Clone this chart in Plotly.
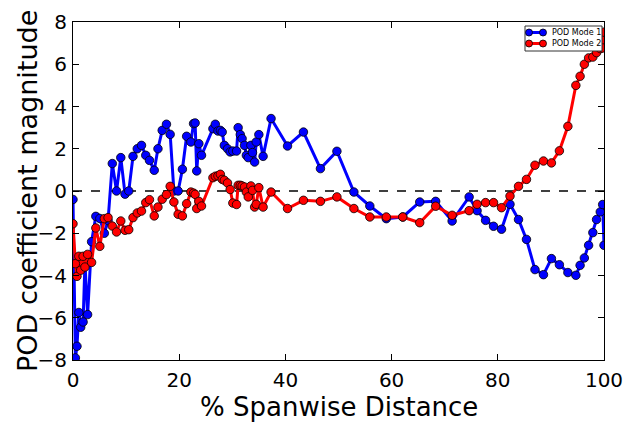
import plotly.graph_objects as go

# Spanwise stations (% of span) shared by both POD modes
span_pct = [0.0, 0.45, 0.75, 1.1, 1.45, 1.9, 2.25, 2.75, 3.5, 4.3, 5.05, 5.9, 6.6, 7.4, 8.2,
            9.0, 9.8, 10.5, 11.3, 12.1, 12.9, 13.7, 14.4, 15.3, 16.0, 16.8, 17.6, 18.3, 19.0,
            19.8, 20.6, 21.4, 22.2, 22.7, 23.0, 23.3, 23.7, 24.2, 26.35, 26.8, 27.3, 27.75,
            28.1, 28.5, 29.1, 29.6, 30.1, 30.8, 31.1, 31.5, 31.85, 32.3, 32.65, 33.0, 33.5,
            33.8, 34.2, 34.5, 35.0, 35.8, 37.3, 40.4, 43.4, 46.6, 49.7, 52.9, 55.9, 59.0,
            62.1, 65.3, 68.3, 71.4, 74.6, 76.1, 77.7, 79.2, 80.7, 82.3, 83.9, 85.4, 87.0,
            88.6, 90.1, 91.6, 93.2, 94.7, 95.5, 96.3, 97.1, 97.9, 98.6, 99.3, 99.75, 100.0]

# POD Mode 1 coefficients
mode1 = [-0.4, -7.9, -7.35, -5.75, -6.45, -6.2, -3.4, -5.85, -2.4, -1.2, -1.3, -2.0, -1.4,
         1.3, 0.0, 1.58, -0.15, 0.0, 1.64, 2.0, 2.16, 1.69, 1.45, 0.98, 2.0, 2.87, 3.16, 2.68,
         0.0, 0.0, 1.03, 2.59, 2.32, 3.19, 3.22, 0.95, 2.24, 1.69, 2.95, 3.16, 2.84, 2.87,
         2.79, 2.16, 2.0, 1.85, 1.89, 1.89, 3.0, 2.67, 2.48, 2.16, 1.69, 1.58, 2.16, 1.82,
         1.37, 2.32, 2.67, 1.64, 3.43, 2.13, 2.79, 1.06, 1.88, -0.05, -0.71, -1.31, -1.23,
         -0.52, -0.49, -1.42, -0.28, -0.93, -1.39, -1.67, -1.81, -0.63, -1.35, -2.29, -3.72,
         -3.96, -3.2, -3.49, -3.86, -3.99, -3.52, -3.17, -2.57, -1.97, -1.35, -0.99, -0.64,
         -2.57]

# POD Mode 2 coefficients
mode2 = [-1.55, -3.44, -4.04, -3.09, -3.75, -3.09, -3.6, -3.0, -3.38, -1.75, -2.62, -1.31,
         -1.26, -1.66, -1.94, -1.42, -1.86, -1.83, -1.26, -1.04, -0.95, -0.55, -0.41, -1.18,
         -0.76, -0.39, -0.17, 0.22, -0.52, -1.1, -1.18, -0.6, -0.05, -0.1, -0.16, -0.83,
         -0.49, -0.71, 0.63, 0.70, 0.72, 0.79, 0.55, 0.51, 0.38, 0.07, -0.57, -0.64, 0.27,
         0.27, 0.24, 0.19, -0.05, -0.28, 0.24, 0.03, -0.76, -0.63, 0.16, -0.76, -0.05, -0.83,
         -0.44, -0.49, -0.28, -0.83, -1.23, -1.23, -1.23, -1.5, -0.72, -1.15, -0.93, -0.63,
         -0.55, -0.55, -0.79, -0.24, 0.22, 0.55, 1.22, 1.42, 1.33, 1.9, 3.06, 5.0, 5.43, 6.0,
         6.3, 6.34, 6.55, 6.74, 6.77, 7.52]

series_names = ["POD Mode 1", "POD Mode 2"]
series_colors = ["#0000ff", "#ff0000"]

x_ticks = [0, 20, 40, 60, 80, 100]
y_ticks = [-8, -6, -4, -2, 0, 2, 4, 6, 8]

FONT = "DejaVu Sans"
W, H = 626, 424
ML, MR, MT, MB = 73, 22, 22, 64
PW, PH = W - ML - MR, H - MT - MB


def px_to_paper(px, py):
    """Pixel position in the page -> paper coordinates of the plot area."""
    return (px - ML) / PW, (H - MB - py) / PH


fig = go.Figure()
for name, vals, color in zip(series_names, [mode1, mode2], series_colors):
    fig.add_trace(go.Scatter(
        x=span_pct, y=vals, name=name, mode="lines+markers",
        line=dict(color=color, width=3),
        marker=dict(color=color, size=8.5, line=dict(color="black", width=0.8)),
        showlegend=False,
    ))

# zero reference line
fig.add_shape(type="line", xref="x", yref="y", x0=0, x1=100, y0=0, y1=0,
              line=dict(color="black", width=1.5, dash="dash"), layer="below")

# compact legend box in the upper-right corner
bx0, by0 = px_to_paper(525, 51)
bx1, by1 = px_to_paper(602, 26)
fig.add_shape(type="rect", xref="paper", yref="paper", x0=bx0, y0=by0, x1=bx1, y1=by1,
              fillcolor="white", line=dict(color="#333333", width=1), layer="above")
for i, (name, color) in enumerate(zip(series_names, series_colors)):
    row_y = 32.5 + i * 11
    lx0, ly = px_to_paper(529, row_y)
    lx1, _ = px_to_paper(543, row_y)
    fig.add_shape(type="line", xref="paper", yref="paper", x0=lx0, x1=lx1, y0=ly, y1=ly,
                  line=dict(color=color, width=3), layer="above")
    for cx in (529, 543):
        cx0, cy0 = px_to_paper(cx - 3.5, row_y + 3.5)
        cx1, cy1 = px_to_paper(cx + 3.5, row_y - 3.5)
        fig.add_shape(type="circle", xref="paper", yref="paper",
                      x0=cx0, x1=cx1, y0=cy0, y1=cy1, fillcolor=color,
                      line=dict(color="black", width=0.8), layer="above")
    tx, ty = px_to_paper(550, row_y)
    fig.add_annotation(text=name, showarrow=False, xref="paper", yref="paper",
                       x=tx, y=ty, xanchor="left", yanchor="middle",
                       font=dict(family=FONT, size=8, color="black"))

axis_common = dict(showline=True, linecolor="black", linewidth=1, mirror="allticks",
                   ticks="inside", ticklen=6, tickcolor="black", showgrid=False,
                   zeroline=False, automargin=False,
                   tickfont=dict(family=FONT, size=20, color="black"))

fig.update_xaxes(range=[0, 100], tickvals=x_ticks, ticklabelstandoff=2, **axis_common)
fig.update_yaxes(range=[-8, 8], tickvals=y_ticks, ticklabelstandoff=1, **axis_common)

fig.add_annotation(text="POD coefficient magnitude", textangle=-90, showarrow=False,
                   xref="paper", yref="paper", x=(27 - ML) / PW, y=0.5,
                   xanchor="center", yanchor="middle",
                   font=dict(family=FONT, size=27, color="black"))
fig.add_annotation(text="% Spanwise Distance", showarrow=False,
                   xref="paper", yref="paper", x=0.5, y=-(407 - (H - MB)) / PH,
                   xanchor="center", yanchor="middle", borderpad=0,
                   font=dict(family=FONT, size=26, color="black"))

fig.update_layout(
    width=W, height=H,
    margin=dict(l=ML, r=MR, t=MT, b=MB, autoexpand=False),
    paper_bgcolor="white", plot_bgcolor="white",
    showlegend=False,
)

fig.write_html("out.html")
